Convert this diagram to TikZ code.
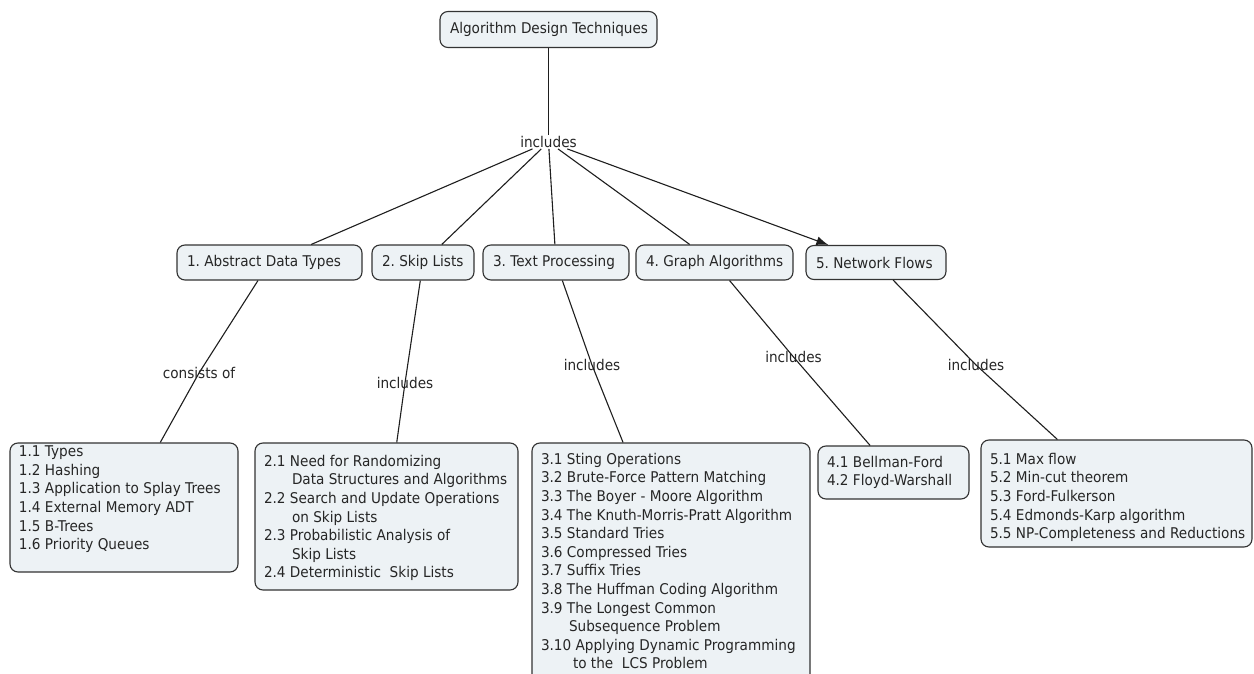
\documentclass[tikz,border=0pt]{standalone}
\usepackage{fontspec}
\setmainfont{DejaVu Sans}[FakeStretch=0.92]
\usetikzlibrary{arrows.meta}
\frenchspacing

\definecolor{boxfill}{HTML}{EDF2F5}
\definecolor{boxline}{HTML}{333333}
\definecolor{inktext}{HTML}{262626}
\definecolor{linkline}{HTML}{1E1E1E}

% box width, box height, top gap, lines
\newcommand{\leafpar}[4]{\parbox[c][#2][t]{#1}{\raggedright\leftskip=9pt\vspace*{#3}#4}}
% continuation line of a wrapped entry
\newcommand{\contline}[1]{\hspace*{28pt}#1}
% left-aligned single-line label of a given width
\newcommand{\toplabel}[2]{\makebox[#1][l]{#2}}

\begin{document}
\begin{tikzpicture}[x=1pt,y=-1pt,
  txt/.style={font=\fontsize{14.8}{18.6}\selectfont},
  concept/.style={txt, draw=boxline, fill=boxfill, rounded corners=8pt, line width=1.1pt,
    text=inktext, inner sep=0pt},
  topic/.style={concept, inner xsep=10pt},
  linkphrase/.style={txt, text=inktext, inner sep=1pt},
  link/.style={draw=linkline, line width=1.1pt},
  linkarrow/.style={link, -{Latex[length=12pt,width=9pt]}}]

\useasboundingbox (0,0) rectangle (1254,674);
\fill[white] (0,0) rectangle (1254,674);

% root and linking phrase
\node[topic, minimum height=36pt] (root) at (548.5,29.5) {\toplabel{197pt}{Algorithm Design Techniques}};
\node[linkphrase] (inc0) at (548.5,142) {includes};

% chapter concepts
\node[topic, minimum height=35pt] (b1) at (269.5,262.5) {\toplabel{165pt}{1. Abstract Data Types}};
\node[topic, minimum height=35pt] (b2) at (423,262.5) {\toplabel{82pt}{2. Skip Lists}};
\node[topic, minimum height=35pt] (b3) at (556,262.5) {\toplabel{126pt}{3. Text Processing}};
\node[topic, minimum height=35pt] (b4) at (714.5,262.5) {\toplabel{137pt}{4. Graph Algorithms}};
\node[topic, minimum height=34pt] (b5) at (876,262.5) {\toplabel{120pt}{5. Network Flows}};

% linking phrases below the chapters
\node[linkphrase] (lab1) at (199,373) {consists of};
\node[linkphrase] (lab2) at (405,383) {includes};
\node[linkphrase] (lab3) at (592,365) {includes};
\node[linkphrase] (lab4) at (793.5,357) {includes};
\node[linkphrase] (lab5) at (976,365) {includes};

% section lists
\node[concept] (l1) at (124,507.5) {\leafpar{228pt}{129pt}{3pt}{%
  1.1 Types\\
  1.2 Hashing\\
  1.3 Application to Splay Trees\\
  1.4 External Memory ADT\\
  1.5 B-Trees\\
  1.6 Priority Queues}};

\node[concept] (l2) at (386.5,516.5) {\leafpar{263pt}{147pt}{12pt}{%
  2.1 Need for Randomizing\\
  \contline{Data Structures and Algorithms}\\
  2.2 Search and Update Operations\\
  \contline{on Skip Lists}\\
  2.3 Probabilistic Analysis of\\
  \contline{Skip Lists}\\
  2.4 Deterministic\ \ Skip Lists}};

\node[concept] (l3) at (671,563) {\leafpar{278pt}{240pt}{10pt}{%
  3.1 Sting Operations\\
  3.2 Brute-Force Pattern Matching\\
  3.3 The Boyer - Moore Algorithm\\
  3.4 The Knuth-Morris-Pratt Algorithm\\
  3.5 Standard Tries\\
  3.6 Compressed Tries\\
  3.7 Suffix Tries\\
  3.8 The Huffman Coding Algorithm\\
  3.9 The Longest Common\\
  \contline{Subsequence Problem}\\
  3.10 Applying Dynamic Programming\\
  \hspace*{32pt}to the\ \ LCS Problem}};

\node[concept] (l4) at (893.5,472.5) {\leafpar{151pt}{53pt}{10pt}{%
  4.1 Bellman-Ford\\
  4.2 Floyd-Warshall}};

\node[concept] (l5) at (1116.5,493.5) {\leafpar{271pt}{107pt}{13pt}{%
  5.1 Max flow\\
  5.2 Min-cut theorem\\
  5.3 Ford-Fulkerson\\
  5.4 Edmonds-Karp algorithm\\
  5.5 NP-Completeness and Reductions}};

% connectors from the root
\draw[link] (root) -- (inc0);
\draw[link] (inc0) -- (b1);
\draw[link] (inc0) -- (b2);
\draw[link] (inc0) -- (b3);
\draw[link] (inc0) -- (b4);
\draw[linkarrow] (inc0) -- (b5);

% connectors from the chapters through their phrases to the sections
\draw[link] (b1) -- (lab1.center) -- (l1);
\draw[link] (b2) -- (lab2.center) -- (l2);
\draw[link] (b3) -- (lab3.center) -- (l3);
\draw[link] (b4) -- (lab4.center) -- (l4);
\draw[link] (b5) -- (lab5.center) -- (l5);
\end{tikzpicture}
\end{document}
